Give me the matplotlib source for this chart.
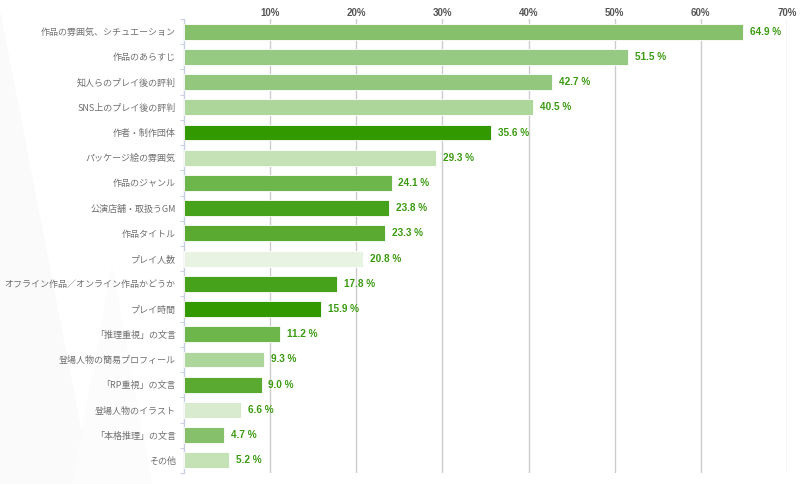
import numpy as np
import matplotlib.pyplot as plt
from matplotlib.patches import Polygon

plt.rcParams['font.family'] = ['Noto Sans CJK JP', 'DejaVu Sans']

# ----------------------------------------------------
# data
# ----------------------------------------------------
categories = [
    "作品の雰囲気、シチュエーション",
    "作品のあらすじ",
    "知人らのプレイ後の評判",
    "SNS上のプレイ後の評判",
    "作者・制作団体",
    "パッケージ絵の雰囲気",
    "作品のジャンル",
    "公演店舗・取扱うGM",
    "作品タイトル",
    "プレイ人数",
    "オフライン作品／オンライン作品かどうか",
    "プレイ時間",
    "「推理重視」の文言",
    "登場人物の簡易プロフィール",
    "「RP重視」の文言",
    "登場人物のイラスト",
    "「本格推理」の文言",
    "その他",
]
values = [64.9, 51.5, 42.7, 40.5, 35.6, 29.3, 24.1, 23.8, 23.3,
          20.8, 17.8, 15.9, 11.2, 9.3, 9.0, 6.6, 4.7, 5.2]
bar_colors = ["#86c06a", "#96c982", "#94c77e", "#acd69a", "#339900",
              "#c5e2b6", "#6db64c", "#45a21a", "#5aaa32", "#e9f3e3",
              "#45a21a", "#339900", "#6db64c", "#acd69a", "#5aaa32",
              "#d8ebcf", "#86c06a", "#c5e2b6"]
x_ticks = [10, 20, 30, 40, 50, 60, 70]

fig = plt.figure(figsize=(8, 4.84), dpi=100)

# very faint background wedges on the left
fig.patches.append(Polygon([(0, 0.98), (0.0, 0), (0.115, 0)], closed=True,
                           transform=fig.transFigure, facecolor="#fafafa",
                           edgecolor="none", zorder=-1))
fig.patches.append(Polygon([(0.14, 0.45), (0.09, 0), (0.19, 0)], closed=True,
                           transform=fig.transFigure, facecolor="#fcfcfc",
                           edgecolor="none", zorder=-1))

ax = fig.add_axes([0.23, 1 - 473 / 484, 787 / 800 - 0.23, (473 - 19) / 484])
ax.patch.set_alpha(0)

y = np.arange(len(categories))
ax.barh(y, values, height=0.63, color=bar_colors, edgecolor="white",
        linewidth=0.6, zorder=3)

for yi, v in zip(y, values):
    ax.text(v + 0.8, yi, f"{v:.1f} %", va="center", ha="left",
            fontsize=7.2, fontweight="bold", color="#3a9a10",
            family=["Liberation Sans"], zorder=4)

ax.set_xlim(0, 70)
ax.set_ylim(len(categories) - 0.5, -0.5)

ax.xaxis.tick_top()
ax.set_xticks(x_ticks)
ax.set_xticklabels([f"{t}%" for t in x_ticks], fontsize=7,
                   fontweight="bold", color="#555555",
                   family=["Liberation Sans"])
ax.tick_params(axis="x", length=0, pad=0.5)
ax.grid(axis="x", color="#cccccc", linewidth=1.0, zorder=0)

ax.set_yticks(y)
ax.set_yticklabels(categories, fontsize=6.5, color="#707070")
ax.set_yticks(np.arange(len(categories) + 1) - 0.5, minor=True)
ax.tick_params(axis="y", which="major", length=0, pad=6)
ax.tick_params(axis="y", which="minor", length=3, color="#c8d0e0", width=0.8)

for side in ["top", "right", "bottom"]:
    ax.spines[side].set_visible(False)
ax.spines["left"].set_color("#c8d0e0")
ax.spines["left"].set_linewidth(1.0)

fig.savefig("out.png", dpi=100)
